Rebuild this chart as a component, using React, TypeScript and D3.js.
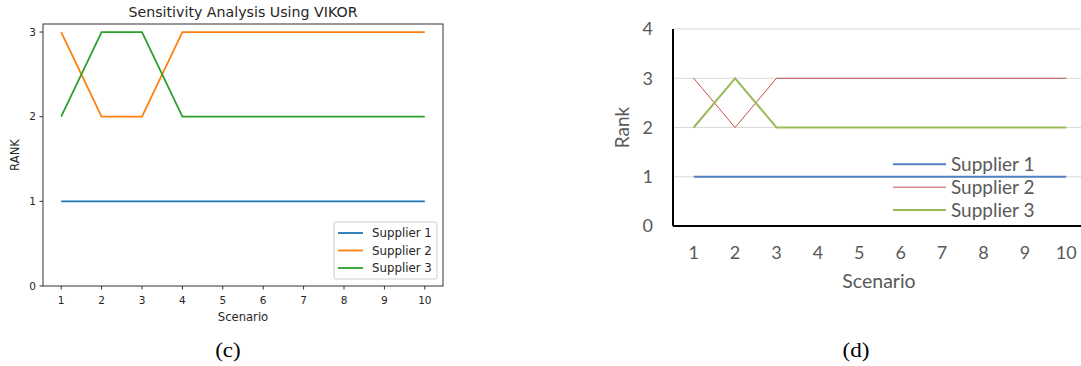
import React from 'react';
import * as d3 from 'd3';

const scenarios = [1, 2, 3, 4, 5, 6, 7, 8, 9, 10];
const seriesNames = ['Supplier 1', 'Supplier 2', 'Supplier 3'];

// (c) VIKOR ranks
const vikorS1 = [1, 1, 1, 1, 1, 1, 1, 1, 1, 1];
const vikorS2 = [3, 2, 2, 3, 3, 3, 3, 3, 3, 3];
const vikorS3 = [2, 3, 3, 2, 2, 2, 2, 2, 2, 2];

// (d) second method ranks
const rankS1 = [1, 1, 1, 1, 1, 1, 1, 1, 1, 1];
const rankS2 = [3, 2, 3, 3, 3, 3, 3, 3, 3, 3];
const rankS3 = [2, 3, 2, 2, 2, 2, 2, 2, 2, 2];

const leftTicksY = [0, 1, 2, 3];
const rightTicksY = [0, 1, 2, 3, 4];

const mplColors = ['#1f77b4', '#ff7f0e', '#2ca02c'];
const xlColors = ['#4F81BD', '#C0504D', '#9BBB59'];
const xlWidths = [2, 1, 2];

const LeftChart = () => {
  const x0 = 43, x1 = 443, y0 = 24, y1 = 286;
  const x = d3.scaleLinear().domain([0.55, 10.45]).range([x0, x1]);
  const y = d3.scaleLinear().domain([0, 3.095]).range([y1, y0]);
  const line = d3.line<number>().x((d, i) => x(scenarios[i])).y(d => y(d));
  const data = [vikorS1, vikorS2, vikorS3];
  const font = 'DejaVu Sans, sans-serif';
  return (
    <g fontFamily={font} fill="#262626">
      <text x={(x0 + x1) / 2} y={17} textAnchor="middle" fontSize={14.2}>Sensitivity Analysis Using VIKOR</text>
      {data.map((s, i) => (
        <path key={i} d={line(s) || ''} fill="none" stroke={mplColors[i]} strokeWidth={1.8} />
      ))}
      <rect x={x0} y={y0} width={x1 - x0} height={y1 - y0} fill="none" stroke="#333" strokeWidth={1} />
      {leftTicksY.map(t => (
        <g key={t}>
          <line x1={x0} x2={x0 - 3.5} y1={y(t)} y2={y(t)} stroke="#333" />
          <text x={x0 - 7} y={y(t)} dy="0.35em" textAnchor="end" fontSize={10.5}>{t}</text>
        </g>
      ))}
      {scenarios.map(t => (
        <g key={t}>
          <line x1={x(t)} x2={x(t)} y1={y1} y2={y1 + 3.5} stroke="#333" />
          <text x={x(t)} y={y1 + 14} dy="0.35em" textAnchor="middle" fontSize={10.5}>{t}</text>
        </g>
      ))}
      <text x={(x0 + x1) / 2} y={317} dy="0.35em" textAnchor="middle" fontSize={11.6}>Scenario</text>
      <text transform={`translate(15,${(y0 + y1) / 2}) rotate(-90)`} dy="0.35em" textAnchor="middle" fontSize={11.6}>RANK</text>
      <rect x={334} y={222} width={103} height={57} rx={2} fill="#fff" fillOpacity={0.8} stroke="#ccc" strokeWidth={1} />
      {seriesNames.map((n, i) => (
        <g key={n}>
          <line x1={338} x2={363} y1={233 + i * 17.5} y2={233 + i * 17.5} stroke={mplColors[i]} strokeWidth={1.8} />
          <text x={372} y={233 + i * 17.5} dy="0.35em" fontSize={11.8}>{n}</text>
        </g>
      ))}
      <text transform="translate(228,350) scale(1.1,1)" dy="0.35em" textAnchor="middle" fontSize={21} fontFamily="Liberation Serif, serif" fill="#000">(c)</text>
    </g>
  );
};

const RightChart = () => {
  const x0 = 673, y0 = 29, y1 = 226;
  const x = d3.scaleBand<number>().domain(scenarios).range([x0, x0 + 414]);
  const y = d3.scaleLinear().domain([0, 4]).range([y1, y0]);
  const cx = (v: number) => (x(v) || 0) + x.bandwidth() / 2;
  const line = d3.line<number>().x((d, i) => cx(scenarios[i])).y(d => y(d));
  const data = [rankS1, rankS2, rankS3];
  const font = 'Lato, Carlito, sans-serif';
  return (
    <g fontFamily={font} fill="#595959">
      {rightTicksY.map(t => (
        <g key={t}>
          {t > 0 && <line x1={x0} x2={1081} y1={y(t)} y2={y(t)} stroke="#D9D9D9" strokeWidth={1.2} />}
          <text x={653} y={y(t)} dy="0.35em" textAnchor="end" fontSize={18}>{t}</text>
        </g>
      ))}
      {data.map((s, i) => (
        <path key={i} d={line(s) || ''} fill="none" stroke={xlColors[i]} strokeWidth={xlWidths[i]} />
      ))}
      <line x1={x0} x2={x0} y1={y0} y2={y1} stroke="#000" strokeWidth={2} />
      <line x1={x0} x2={1081} y1={y1} y2={y1} stroke="#000" strokeWidth={2} />
      {scenarios.map(t => (
        <text key={t} x={cx(t)} y={253} dy="0.35em" textAnchor="middle" fontSize={18}>{t}</text>
      ))}
      <text x={879} y={281} dy="0.35em" textAnchor="middle" fontSize={19.5}>Scenario</text>
      <text transform={`translate(622,${(y0 + y1) / 2}) rotate(-90)`} dy="0.35em" textAnchor="middle" fontSize={19}>Rank</text>
      {seriesNames.map((n, i) => (
        <g key={n}>
          <line x1={893} x2={946} y1={164.3 + i * 22.9} y2={164.3 + i * 22.9} stroke={xlColors[i]} strokeWidth={xlWidths[i]} />
          <text x={951} y={164.3 + i * 22.9} dy="0.35em" fontSize={19}>{n}</text>
        </g>
      ))}
      <text transform="translate(856,350) scale(1.1,1)" dy="0.35em" textAnchor="middle" fontSize={21} fontFamily="Liberation Serif, serif" fill="#000">(d)</text>
    </g>
  );
};

export default function App() {
  return (
    <svg width={1081} height={366} style={{ position: 'absolute', left: 0, top: 0, background: '#fff' }}>
      <rect width={1081} height={366} fill="#fff" />
      <LeftChart />
      <RightChart />
    </svg>
  );
}
